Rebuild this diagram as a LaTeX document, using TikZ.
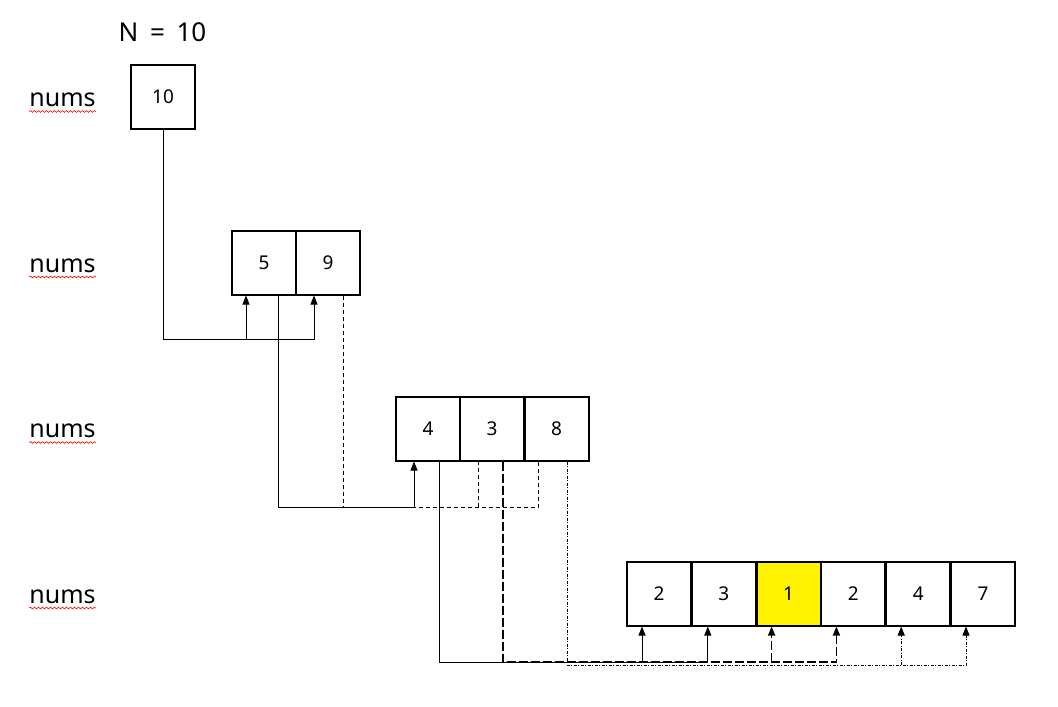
\documentclass[tikz,border=0pt]{standalone}
\usepackage{fontspec}
\setmainfont{Noto Sans}
\usetikzlibrary{arrows.meta,decorations.pathmorphing}
\begin{document}
\begin{tikzpicture}[x=1pt,y=-1pt,
  cell/.style={draw,line width=2pt,minimum width=64pt,minimum height=64pt,inner sep=0pt,font=\fontsize{19}{19}\selectfont},
  lbl/.style={font=\fontsize{25}{25}\selectfont,anchor=base,inner sep=0pt},
  conn/.style={line width=0.9pt},
  tip/.style={-{Triangle[width=7pt,length=9pt]}},
  dsh/.style={conn,dash pattern=on 4pt off 3pt},
  ldsh/.style={line width=1.5pt,dash pattern=on 9pt off 3pt},
  ddot/.style={line width=0.7pt,dash pattern=on 3pt off 1.5pt on 1pt off 1.5pt},
  squig/.style={red,line width=0.6pt,decorate,decoration={snake,amplitude=0.9pt,segment length=4pt}}]
\useasboundingbox (0,0) rectangle (1058,707);
\fill[white] (0,0) rectangle (1058,707);

% title and labels
\node[lbl,font=\fontsize{26}{26}\selectfont] (title) at (162.5,41.5) {N\hspace{0.45em}=\hspace{0.45em}10};
\node[lbl] (L1) at (62.5,106.5) {nums};
\node[lbl] (L2) at (62.5,272) {nums};
\node[lbl] (L3) at (62.5,437.5) {nums};
\node[lbl] (L4) at (62.5,603) {nums};
\foreach \l in {L1,L2,L3,L4}{
  \draw[squig] ([yshift=-5pt]\l.base west) -- ([yshift=-5pt]\l.base east);
}

% boxes
\node[cell] (a) at (163,97) {10};
\node[cell] (b1) at (264,262.5) {5};
\node[cell] (b2) at (328,262.5) {9};
\node[cell] (c1) at (428,428.5) {4};
\node[cell] (c2) at (492,428.5) {3};
\node[cell] (c3) at (556.5,428.5) {8};
\node[cell] (d1) at (659,593.5) {2};
\node[cell] (d2) at (723.8,593.5) {3};
\node[cell,fill=yellow] (d3) at (788.6,593.5) {1};
\node[cell] (d4) at (853.4,593.5) {2};
\node[cell] (d5) at (918.2,593.5) {4};
\node[cell] (d6) at (983,593.5) {7};

% tap points
\coordinate (tb1) at ([xshift=-18pt]b1.south);
\coordinate (tb2) at ([xshift=-14pt]b2.south);
\coordinate (sb1) at ([xshift=14pt]b1.south);
\coordinate (sb2) at ([xshift=15pt]b2.south);
\coordinate (tc1) at ([xshift=-14pt]c1.south);
\coordinate (tc2) at ([xshift=-14pt]c2.south);
\coordinate (tc3) at ([xshift=-18.5pt]c3.south);
\coordinate (sc1) at ([xshift=11pt]c1.south);
\coordinate (sc2) at ([xshift=11pt]c2.south);
\coordinate (sc3) at ([xshift=10.5pt]c3.south);
\coordinate (td1) at ([xshift=-17pt]d1.south);
\coordinate (td2) at ([xshift=-16pt]d2.south);
\coordinate (td3) at ([xshift=-17pt]d3.south);
\coordinate (td4) at ([xshift=-17pt]d4.south);
\coordinate (td5) at ([xshift=-17pt]d5.south);
\coordinate (td6) at ([xshift=-17pt]d6.south);
\coordinate (h1) at (0,339);
\coordinate (h2) at (0,507);
\coordinate (h3) at (0,662);
\coordinate (h3b) at (0,665);

% level 1 -> 2
\draw[conn,tip] (a.south) |- (tb1 |- h1) -- (tb1);
\draw[conn,tip] (tb1 |- h1) -| (tb2);

% level 2 -> 3
\draw[conn,tip] (sb1) |- (tc1 |- h2) -- (tc1);
\draw[dsh] (sb2) |- (tc3 |- h2) -- (tc3);
\draw[dsh] (tc2 |- h2) -- (tc2);

% level 3 -> 4
\draw[conn,tip] (sc1) |- (td1 |- h3) -- (td1);
\draw[conn,tip] (td1 |- h3) -| (td2);
\draw[ldsh,tip] (sc2) |- (td4 |- h3) -- (td4);
\draw[ldsh,tip] (td3 |- h3) -- (td3);
\draw[ddot,tip] (sc3) |- (td6 |- h3b) -- (td6);
\draw[ddot,tip] (td5 |- h3b) -- (td5);
\end{tikzpicture}
\end{document}
